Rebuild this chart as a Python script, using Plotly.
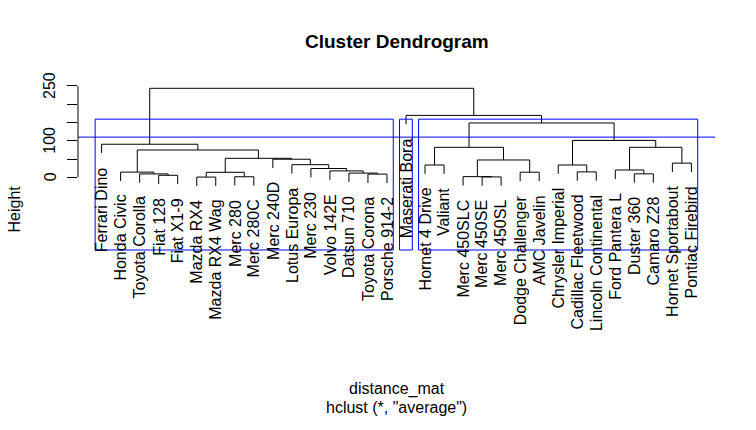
import plotly.graph_objects as go

# ---- data ----
leaf_labels = [
    "Ferrari Dino", "Honda Civic", "Toyota Corolla", "Fiat 128", "Fiat X1-9",
    "Mazda RX4", "Mazda RX4 Wag", "Merc 280", "Merc 280C", "Merc 240D",
    "Lotus Europa", "Merc 230", "Volvo 142E", "Datsun 710", "Toyota Corona",
    "Porsche 914-2", "Maserati Bora", "Hornet 4 Drive", "Valiant", "Merc 450SLC",
    "Merc 450SE", "Merc 450SL", "Dodge Challenger", "AMC Javelin",
    "Chrysler Imperial", "Cadillac Fleetwood", "Lincoln Continental",
    "Ford Pantera L", "Duster 360", "Camaro Z28", "Hornet Sportabout",
    "Pontiac Firebird",
]
# merge table (R hclust style): negative = leaf position (1-based), positive = earlier merge
merge_left = [-6, -21, -8, -20, -4, -15, -3, -29, -14, 1, -2, -23, -26, -13, -28,
              -12, -18, -25, -11, -31, 4, -10, 10, 11, 15, 17, -1, 18, 26, -17, 27]
merge_right = [-7, -22, -9, 2, -5, -16, 5, -30, 6, 3, 7, -24, -27, 9, 8,
               14, -19, 13, 16, -32, 12, 19, 22, 23, 20, 21, 24, 25, 28, 29, 30]
merge_height = [0.6, 1.0, 1.5, 1.8, 5.5, 8.7, 9.3, 9.5, 11.5, 13.7, 14.2, 14.0,
                14.8, 17.5, 20.0, 24.0, 33.7, 33.7, 34.5, 38.8, 47.4, 49.5, 52.0,
                74.7, 82.1, 82.1, 90.5, 101.0, 148.7, 169.5, 243.6]
n_clusters = 3
cut_height = 110
y_tick_vals = [0, 50, 100, 150, 200, 250]
y_tick_text = ["0", "", "100", "", "", "250"]

title_text = "Cluster Dendrogram"
xlab_text = "distance_mat"
sub_text = 'hclust (*, "average")'
ylab_text = "Height"

# ---- layout constants ----
FONT = "Liberation Sans, Arial, sans-serif"
HANG = 0.1
RECT_BOTTOM = -199
X_RANGE = [-0.24, 33.24]
Y_RANGE = [-423.5, 269.1]
ML, MR, MT, MB = 78, 41, 79, 98

n_leaf = len(leaf_labels)
hang_amt = HANG * (max(merge_height) - min(merge_height))

node_x = {}
def child_x(c):
    return float(-c) if c < 0 else node_x[c]

xs, ys = [], []
leaf_end = {}
for i, (l, r, h) in enumerate(zip(merge_left, merge_right, merge_height), start=1):
    xl, xr = child_x(l), child_x(r)
    yl = h - hang_amt if l < 0 else merge_height[l - 1]
    yr = h - hang_amt if r < 0 else merge_height[r - 1]
    if l < 0:
        leaf_end[-l] = yl
    if r < 0:
        leaf_end[-r] = yr
    xs += [xl, xl, xr, xr, None]
    ys += [yl, h, h, yr, None]
    node_x[i] = (xl + xr) / 2

fig = go.Figure()
fig.add_trace(go.Scatter(x=xs, y=ys, mode="lines",
                         line=dict(color="black", width=1), hoverinfo="skip",
                         showlegend=False))

# leaf labels
annotations = []
for pos, lab in enumerate(leaf_labels, start=1):
    annotations.append(dict(x=pos, y=leaf_end[pos], xref="x", yref="y", text=lab,
                            showarrow=False, textangle=-90, xanchor="center",
                            yanchor="top", yshift=-12,
                            font=dict(family=FONT, size=16, color="black")))

# clusters for rect.hclust
def leaves_of(c):
    if c < 0:
        return [-c]
    return leaves_of(merge_left[c - 1]) + leaves_of(merge_right[c - 1])

clusters = [len(merge_height)]
while len(clusters) < n_clusters:
    top = max((c for c in clusters if c > 0), key=lambda c: merge_height[c - 1])
    idx = clusters.index(top)
    clusters[idx:idx + 1] = [merge_left[top - 1], merge_right[top - 1]]

sorted_h = sorted(merge_height, reverse=True)
rect_top = (sorted_h[n_clusters - 2] + sorted_h[n_clusters - 1]) / 2

shapes = []
for c in clusters:
    lv = leaves_of(c)
    shapes.append(dict(type="rect", xref="x", yref="y", x0=min(lv) - 0.34,
                       x1=max(lv) + 0.33, y0=RECT_BOTTOM, y1=rect_top,
                       line=dict(color="blue", width=1), fillcolor="rgba(0,0,0,0)"))

shapes.append(dict(type="line", xref="paper", yref="y", x0=0, x1=1,
                   y0=cut_height, y1=cut_height, line=dict(color="blue", width=1)))
# y axis line (only over tick span)
shapes.append(dict(type="line", xref="paper", yref="y", x0=0, x1=0,
                   y0=min(y_tick_vals), y1=max(y_tick_vals),
                   line=dict(color="black", width=1)))

for v, t in zip(y_tick_vals, y_tick_text):
    if t:
        annotations.append(dict(x=0, y=v, xref="paper", yref="y", text=t,
                                showarrow=False, textangle=-90, xanchor="center",
                                yanchor="middle", xshift=-28,
                                font=dict(family=FONT, size=16, color="black")))

annotations.append(dict(x=0, y=0.5, xref="paper", yref="paper", text=ylab_text,
                        showarrow=False, textangle=-90, xanchor="center",
                        yanchor="middle", xshift=-64, yshift=-4,
                        font=dict(family=FONT, size=16, color="black")))
annotations.append(dict(x=0.5, y=1, xref="paper", yref="paper",
                        text="<b>" + title_text + "</b>", showarrow=False,
                        xanchor="center", yanchor="middle", yshift=38,
                        font=dict(family=FONT, size=19, color="black")))
annotations.append(dict(x=0.5, y=0, xref="paper", yref="paper", text=xlab_text,
                        showarrow=False, xanchor="center", yanchor="middle",
                        yshift=-57, font=dict(family=FONT, size=16, color="black")))
annotations.append(dict(x=0.5, y=0, xref="paper", yref="paper", text=sub_text,
                        showarrow=False, xanchor="center", yanchor="middle",
                        yshift=-75, font=dict(family=FONT, size=16, color="black")))

fig.update_layout(
    width=756, height=430,
    margin=dict(l=ML, r=MR, t=MT, b=MB, pad=0),
    paper_bgcolor="white", plot_bgcolor="white",
    showlegend=False,
    xaxis=dict(range=X_RANGE, visible=False, fixedrange=True),
    yaxis=dict(range=Y_RANGE, showgrid=False, zeroline=False, showline=False,
               tickmode="array", tickvals=y_tick_vals, ticks="outside",
               ticklen=10, tickwidth=1, tickcolor="black",
               showticklabels=False, fixedrange=True),
    shapes=shapes, annotations=annotations,
)

fig.write_html("out.html")
